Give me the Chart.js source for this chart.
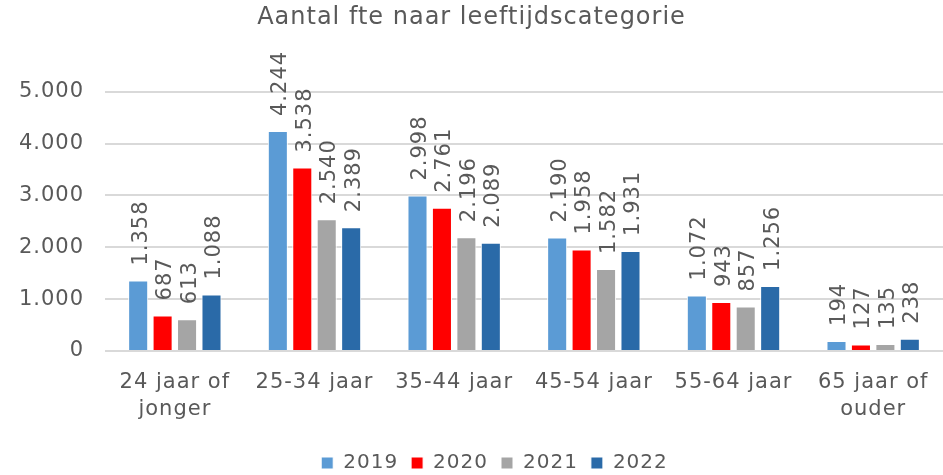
<!DOCTYPE html>
<html>
<head>
<meta charset="utf-8">
<script src="https://cdn.jsdelivr.net/npm/chart.js@4"></script>
<style>
body{margin:0;background:#fff;}
</style>
</head>
<body>
<canvas id="chart" width="943" height="475"></canvas>
<script>
// data
let categories = [["24 jaar of","jonger"],"25-34 jaar","35-44 jaar","45-54 jaar","55-64 jaar",["65 jaar of","ouder"]];
let years = ["2019","2020","2021","2022"];
let fte2019 = [1358, 4244, 2998, 2190, 1072, 194];
let fte2020 = [687, 3538, 2761, 1958, 943, 127];
let fte2021 = [613, 2540, 2196, 1582, 857, 135];
let fte2022 = [1088, 2389, 2089, 1931, 1256, 238];
let colors = ["#5B9BD5", "#FF0000", "#A5A5A5", "#2A6AA8"];

let font = "'DejaVu Sans', Verdana, sans-serif";
let textColor = "#595959";

function fmt(n){
  return String(n).replace(/\B(?=(\d{3})+(?!\d))/g, ".");
}

// a bit of letter spacing so DejaVu gets closer to the wide Verdana look
let spacing = {
  id: "spacing",
  beforeLayout(chart){ chart.ctx.letterSpacing = "1px"; },
  beforeDraw(chart){ chart.ctx.letterSpacing = "1px"; }
};

// legend sits low and a little right of centre, like the original
let legendFit = {
  id: "legendFit",
  beforeInit(chart){
    let lg = chart.legend;
    if(!lg) return;
    let origFit = lg.fit;
    lg.fit = function(){
      origFit.call(this);
      this.height = 35;
    };
    let origDraw = lg.draw;
    lg.draw = function(){
      let ctx = chart.ctx;
      ctx.save();
      ctx.translate(23, 0);
      origDraw.call(this);
      ctx.restore();
    };
  }
};

// rotated value labels above the bars
let valueLabels = {
  id: "valueLabels",
  afterDatasetsDraw(chart){
    let ctx = chart.ctx;
    ctx.save();
    ctx.font = "21px " + font;
    ctx.fillStyle = textColor;
    ctx.textAlign = "left";
    ctx.textBaseline = "middle";
    chart.data.datasets.forEach(function(ds, i){
      let meta = chart.getDatasetMeta(i);
      meta.data.forEach(function(bar, j){
        ctx.save();
        ctx.translate(bar.x + 3, bar.y - 15);
        ctx.rotate(-Math.PI / 2);
        ctx.fillText(fmt(ds.data[j]), 0, 0);
        ctx.restore();
      });
    });
    ctx.restore();
  }
};

let allData = [fte2019, fte2020, fte2021, fte2022];

new Chart(document.getElementById("chart"), {
  type: "bar",
  data: {
    labels: categories,
    datasets: years.map(function(y, i){
      return {
        label: y,
        data: allData[i],
        backgroundColor: colors[i],
        borderColor: "#FFFFFF",
        borderWidth: 1,
        borderSkipped: "bottom",
        categoryPercentage: 0.7,
        barPercentage: 0.82
      };
    })
  },
  options: {
    responsive: false,
    animation: false,
    devicePixelRatio: 1,
    layout: {padding: {left: 0, right: 0, top: 0, bottom: 0}},
    plugins: {
      title: {
        display: true,
        text: "Aantal fte naar leeftijdscategorie",
        color: textColor,
        font: {family: font, size: 24, weight: "normal"},
        padding: {top: 3, bottom: 60}
      },
      legend: {
        position: "bottom",
        labels: {
          color: textColor,
          font: {family: font, size: 20},
          boxWidth: 12,
          boxHeight: 12,
          padding: 13
        }
      },
      tooltip: {enabled: false}
    },
    scales: {
      x: {
        grid: {display: false},
        border: {display: false},
        ticks: {
          color: textColor,
          font: {family: font, size: 21, lineHeight: 1.3},
          padding: 10,
          maxRotation: 0,
          autoSkip: false
        },
        afterFit: function(scale){ scale.height = 89; }
      },
      y: {
        min: 0,
        max: 5000,
        grid: {color: "#D9D9D9", lineWidth: 2, drawTicks: false},
        border: {display: false},
        ticks: {
          stepSize: 1000,
          color: textColor,
          font: {family: font, size: 21},
          padding: 21,
          callback: function(v){ return fmt(v); }
        },
        afterFit: function(scale){ scale.width = 105; }
      }
    }
  },
  plugins: [spacing, legendFit, valueLabels]
});
</script>
</body>
</html>
